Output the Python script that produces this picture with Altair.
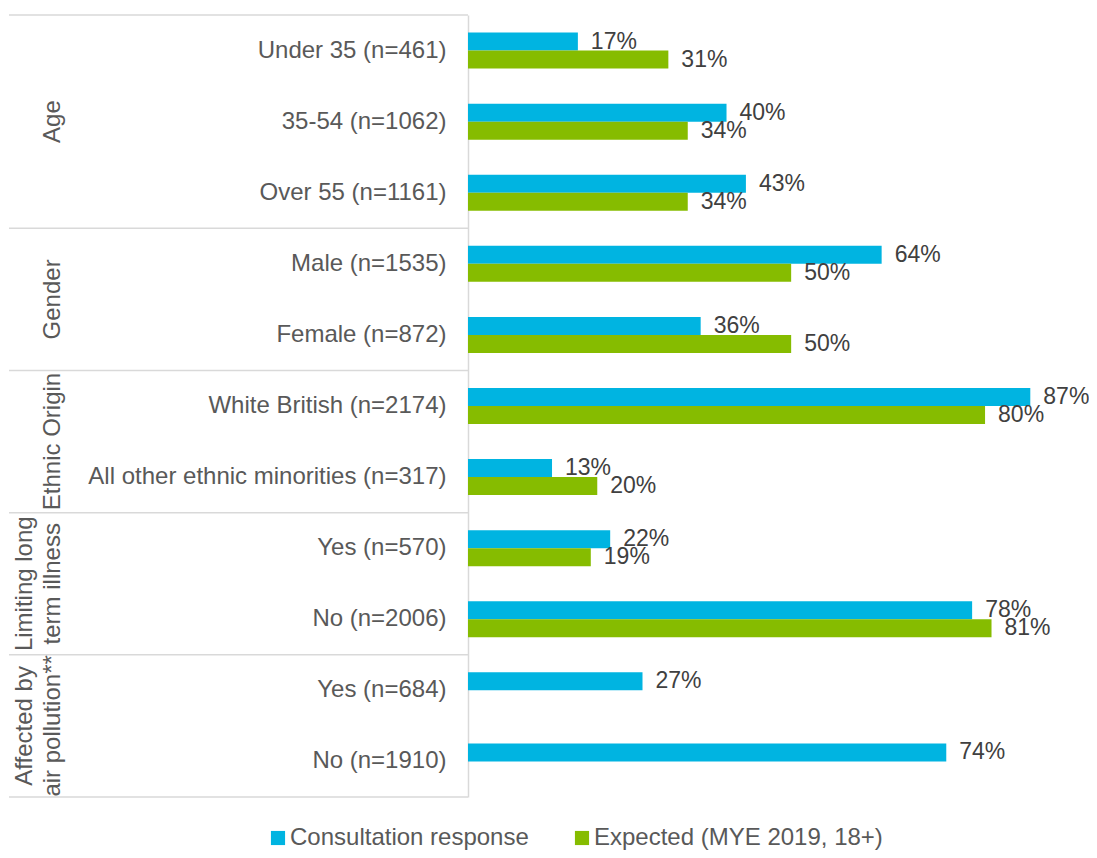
import altair as alt
import pandas as pd

categories = [
    "Under 35 (n=461)", "35-54 (n=1062)", "Over 55 (n=1161)",
    "Male (n=1535)", "Female (n=872)",
    "White British (n=2174)", "All other ethnic minorities (n=317)",
    "Yes (n=570)", "No (n=2006)",
    "Yes (n=684)", "No (n=1910)",
]
consultation = [17, 40, 43, 64, 36, 87, 13, 22, 78, 27, 74]
expected = [31, 34, 34, 50, 50, 80, 20, 19, 81, None, None]
series = ["Consultation response", "Expected (MYE 2019, 18+)"]
colors = ["#00B4E1", "#86BC00"]

group_names = ["Age", "Gender", "Ethnic Origin", "Limiting long\nterm illness", "Affected by\nair pollution**"]
group_sizes = [3, 2, 2, 2, 2]

# ---- tables built from the arrays ----
rows = []
for c, a, b in zip(categories, consultation, expected):
    rows.append({"cat": c, "series": series[0], "value": a})
    if b is not None:
        rows.append({"cat": c, "series": series[1], "value": b})
bars_df = pd.DataFrame(rows)

group_rows, top_rows = [], []
i = 0
for name, n in zip(group_names, group_sizes):
    top_rows.append({"cat": categories[i]})
    nlines = name.count("\n") + 1
    if n % 2 == 1:
        group_rows.append({"cat": categories[i + n // 2], "name": name, "band": 0.5, "lines": nlines})
    else:
        group_rows.append({"cat": categories[i + n // 2 - 1], "name": name, "band": 1.0, "lines": nlines})
    i += n
groups_df = pd.DataFrame(group_rows)
top_df = pd.DataFrame(top_rows)
bottom_df = pd.DataFrame([{"cat": categories[-1]}])

FONT = "Liberation Sans"
GRAY = "#595959"
LINE = "#d9d9d9"
LINE_H = 28

yscale = alt.Scale(domain=categories, paddingInner=0, paddingOuter=0)

bars = alt.Chart(bars_df).mark_bar().encode(
    x=alt.X("value:Q", scale=alt.Scale(domain=[0, 95], nice=False), axis=None),
    y=alt.Y("cat:N", sort=categories, scale=yscale, title=None,
            axis=alt.Axis(title=None, labelFontSize=24, labelColor=GRAY, labelFont=FONT,
                          labelPadding=22, ticks=False, domainColor=LINE, domainWidth=1.5,
                          labelLimit=0, grid=False)),
    yOffset=alt.YOffset("series:N", scale=alt.Scale(domain=series, paddingInner=0, paddingOuter=0.975)),
    color=alt.Color("series:N", scale=alt.Scale(domain=series, range=colors),
                    legend=alt.Legend(title=None, orient="none", legendX=-202, legendY=811,
                                      direction="horizontal", labelFontSize=24, labelColor=GRAY,
                                      labelFont=FONT, symbolType="square", symbolSize=200,
                                      symbolStrokeWidth=0, columnPadding=41, labelOffset=0,
                                      labelLimit=0)),
)

labels = alt.Chart(bars_df).transform_calculate(
    label="datum.value + '%'"
).mark_text(align="left", baseline="middle", dx=13, fontSize=23, font=FONT, color="#404040").encode(
    x=alt.X("value:Q"),
    y=alt.Y("cat:N", title=None),
    yOffset=alt.YOffset("series:N"),
    text="label:N",
)

rules_top = alt.Chart(top_df).mark_rule(color=LINE, strokeWidth=1.5).encode(
    x=alt.value(0), x2=alt.value(-459),
    y=alt.Y("cat:N", bandPosition=0, title=None),
)
rules_bottom = alt.Chart(bottom_df).mark_rule(color=LINE, strokeWidth=1.5).encode(
    x=alt.value(0), x2=alt.value(-459),
    y=alt.Y("cat:N", bandPosition=1, title=None),
)

gtext_kw = dict(angle=270, align="center", baseline="bottom", fontSize=24, font=FONT,
                color=GRAY, lineBreak="\n", lineHeight=LINE_H)
group_layers = []
for band in sorted(groups_df["band"].unique()):
    for nl in sorted(groups_df["lines"].unique()):
        sub = groups_df[(groups_df["band"] == band) & (groups_df["lines"] == nl)]
        if len(sub) == 0:
            continue
        group_layers.append(
            alt.Chart(sub).mark_text(**gtext_kw).encode(
                x=alt.value(-403 - LINE_H * (int(nl) - 1)),
                y=alt.Y("cat:N", bandPosition=float(band), title=None),
                text="name:N",
            )
        )

chart = alt.layer(rules_top, rules_bottom, *group_layers, bars, labels).properties(
    width=614, height=782,
    autosize=alt.AutoSizeParams(type="none"),
    padding={"left": 460, "top": 7, "right": 7, "bottom": 53},
    background="white",
).configure(font=FONT).configure_view(stroke=None)

chart.save("out.html", embed_options={"renderer": "svg", "actions": False})
